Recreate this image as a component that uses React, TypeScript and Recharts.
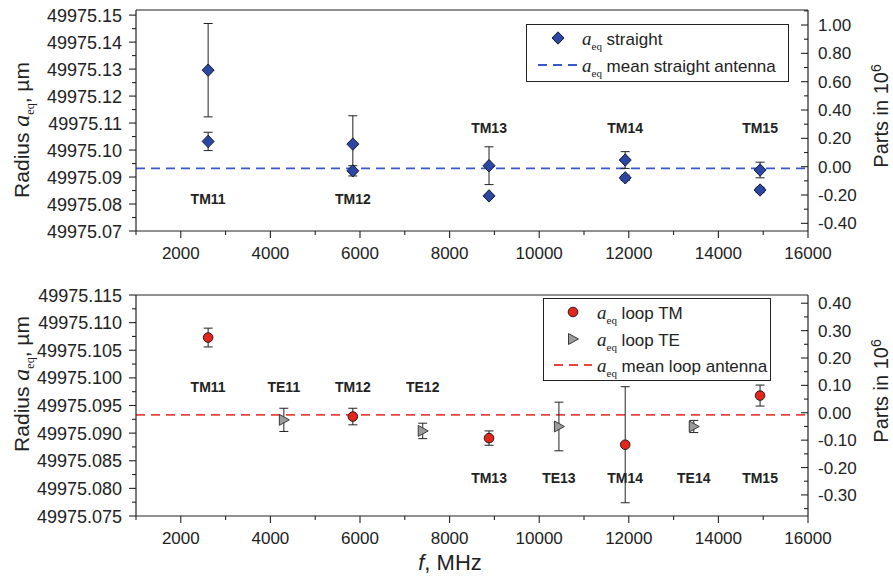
import React from "react";
import { ComposedChart, Scatter, XAxis, YAxis, ErrorBar, ReferenceLine } from "recharts";

const FONT = "'Liberation Sans', Arial, Helvetica, sans-serif";
const SERIF = "'Liberation Serif', 'Times New Roman', serif";
const INK = "#222";

// straight antenna, radius in um (two results per TM mode)
const straightFreq = [2610, 2610, 5840, 5840, 8880, 8880, 11920, 11920, 14930, 14930];
const straightRadius = [
  49975.1296, 49975.1032, 49975.1022, 49975.0923, 49975.0942, 49975.083, 49975.0963, 49975.0897,
  49975.0926, 49975.0852,
];
const straightErr = [0.0173, 0.0034, 0.0105, 0.0019, 0.007, 0.0005, 0.0031, 0.001, 0.0029, 0.001];
const straightMean = 49975.0932;

// loop antenna
const loopTmFreq = [2610, 5840, 8880, 11920, 14930];
const loopTmRadius = [49975.1073, 49975.093, 49975.0891, 49975.0879, 49975.0968];
const loopTmErr = [0.0017, 0.0015, 0.0013, 0.0105, 0.0019];

const loopTeFreq = [4300, 7400, 10440, 13450];
const loopTeRadius = [49975.0924, 49975.0904, 49975.0912, 49975.0912];
const loopTeErr = [0.0021, 0.0014, 0.0044, 0.0011];
const loopMean = 49975.0933;

// mode names written in the plots
const topModes = ["TM11", "TM12", "TM13", "TM14", "TM15"];
const topModeFreq = [2610, 5840, 8880, 11920, 14930];
const topModeY = [49975.0817, 49975.0817, 49975.108, 49975.108, 49975.108];

const bottomModes = ["TM11", "TE11", "TM12", "TE12", "TM13", "TE13", "TM14", "TE14", "TM15"];
const bottomModeFreq = [2610, 4300, 5840, 7400, 8880, 10440, 11920, 13450, 14930];
const bottomModeY = [
  49975.0983, 49975.0983, 49975.0983, 49975.0983, 49975.0819, 49975.0819, 49975.0819, 49975.0819,
  49975.0819,
];

// ticks
const xMajor = [2000, 4000, 6000, 8000, 10000, 12000, 14000, 16000];
const xMinor = [1000, 3000, 5000, 7000, 9000, 11000, 13000, 15000];
const topLeftMajor = [49975.07, 49975.08, 49975.09, 49975.1, 49975.11, 49975.12, 49975.13, 49975.14, 49975.15];
const topLeftMinor = [49975.075, 49975.085, 49975.095, 49975.105, 49975.115, 49975.125, 49975.135, 49975.145];
const topRightMajor = [-0.4, -0.2, 0, 0.2, 0.4, 0.6, 0.8, 1.0];
const topRightMinor = [-0.3, -0.1, 0.1, 0.3, 0.5, 0.7, 0.9, 1.1];
const botLeftMajor = [
  49975.075, 49975.08, 49975.085, 49975.09, 49975.095, 49975.1, 49975.105, 49975.11, 49975.115,
];
const botLeftMinor = [
  49975.0775, 49975.0825, 49975.0875, 49975.0925, 49975.0975, 49975.1025, 49975.1075, 49975.1125,
];
const botRightMajor = [-0.3, -0.2, -0.1, 0, 0.1, 0.2, 0.3, 0.4];
const botRightMinor = [-0.35, -0.25, -0.15, -0.05, 0.05, 0.15, 0.25, 0.35];

const straightData = straightFreq.map((f, i) => ({ f, a: straightRadius[i], err: straightErr[i] }));
const loopTmData = loopTmFreq.map((f, i) => ({ f, a: loopTmRadius[i], err: loopTmErr[i] }));
const loopTeData = loopTeFreq.map((f, i) => ({ f, a: loopTeRadius[i], err: loopTeErr[i] }));
const topLabels = topModes.map((name, i) => ({ name, f: topModeFreq[i], a: topModeY[i] }));
const bottomLabels = bottomModes.map((name, i) => ({ name, f: bottomModeFreq[i], a: bottomModeY[i] }));

const isMajor = (majors: number[], v: number) => majors.some((m) => Math.abs(m - v) < 1e-7);

const bottomTick = (props: any) => {
  const { x, y, payload } = props;
  const major = isMajor(xMajor, payload.value);
  return (
    <g>
      <line x1={x} y1={y} x2={x} y2={y + (major ? 7 : 4)} stroke={INK} strokeWidth={1.1} />
      {major && (
        <text x={x} y={y + 28} textAnchor="middle" fontSize={17} fontFamily={FONT} fill={INK}>
          {payload.value}
        </text>
      )}
    </g>
  );
};

const topTick = (props: any) => {
  const { x, y, payload } = props;
  const major = isMajor(xMajor, payload.value);
  return <line x1={x} y1={y} x2={x} y2={y + (major ? 7 : 4)} stroke={INK} strokeWidth={1.1} />;
};

const leftTick = (majors: number[], digits: number) => (props: any) => {
  const { x, y, payload } = props;
  const major = isMajor(majors, payload.value);
  return (
    <g>
      <line x1={x - (major ? 7 : 4)} y1={y} x2={x} y2={y} stroke={INK} strokeWidth={1.1} />
      {major && (
        <text x={x - 14} y={y + 6.5} textAnchor="end" fontSize={18} fontFamily={FONT} fill={INK}>
          {payload.value.toFixed(digits)}
        </text>
      )}
    </g>
  );
};

const rightTick = (majors: number[]) => (props: any) => {
  const { x, y, payload } = props;
  const major = isMajor(majors, payload.value);
  return (
    <g>
      <line x1={x - (major ? 7 : 4)} y1={y} x2={x} y2={y} stroke={INK} strokeWidth={1.1} />
      {major && (
        <text x={x + 10} y={y + 6} textAnchor="start" fontSize={17} fontFamily={FONT} fill={INK}>
          {payload.value.toFixed(2)}
        </text>
      )}
    </g>
  );
};

const Diamond = (props: any) => {
  const { cx, cy } = props;
  return (
    <polygon
      points={`${cx},${cy - 6.2} ${cx + 6},${cy} ${cx},${cy + 6.2} ${cx - 6},${cy}`}
      fill="#2c47a3"
      stroke="#141a33"
      strokeWidth={1}
    />
  );
};

const RedDot = (props: any) => <circle cx={props.cx} cy={props.cy} r={4.8} fill="#e2261c" stroke="#2a1a1a" strokeWidth={1} />;

const GrayTriangle = (props: any) => {
  const { cx, cy } = props;
  return (
    <polygon
      points={`${cx - 4.5},${cy - 5.5} ${cx + 5.5},${cy} ${cx - 4.5},${cy + 5.5}`}
      fill="#9b9b9b"
      stroke="#3a3a3a"
      strokeWidth={1}
    />
  );
};

const ModeLabel = (props: any) => (
  <text x={props.cx} y={props.cy + 5} textAnchor="middle" fontWeight="bold" fontSize={14} fontFamily={FONT} fill={INK}>
    {props.payload.name}
  </text>
);

const AEq = ({ size, sub }: { size: number; sub: number }) => (
  <span>
    <span style={{ fontFamily: SERIF, fontStyle: "italic", fontSize: size }}>a</span>
    <span style={{ fontFamily: SERIF, fontSize: sub, position: "relative", top: sub * 0.45 }}>eq</span>
  </span>
);

const axisLine = { stroke: INK, strokeWidth: 1.2 };

function Rotated({ cx, cy, children }: { cx: number; cy: number; children: React.ReactNode }) {
  return (
    <div
      style={{
        position: "absolute",
        left: cx,
        top: cy,
        transform: "translate(-50%, -50%) rotate(-90deg)",
        whiteSpace: "nowrap",
        fontFamily: FONT,
        color: INK,
        lineHeight: 1,
      }}
    >
      {children}
    </div>
  );
}

const legendRow = (top: number, left: number): React.CSSProperties => ({
  position: "absolute",
  top,
  left,
  transform: "translateY(-50%)",
  whiteSpace: "nowrap",
  fontFamily: FONT,
  fontSize: 17,
  color: INK,
  lineHeight: 1,
});

// plot area spans x 136..808 in both panels
function Panel(props: {
  height: number;
  top: number;
  bottom: number;
  leftDomain: [number, number];
  rightDomain: [number, number];
  leftTicks: number[];
  leftMajor: number[];
  leftDigits: number;
  rightTicks: number[];
  rightMajor: number[];
  children: React.ReactNode;
}) {
  const xTicks = [...xMinor, ...xMajor];
  return (
    <ComposedChart width={893} height={props.height} margin={{ top: 0, right: 0, bottom: 0, left: 0 }}>
      <XAxis
        xAxisId="x"
        dataKey="f"
        type="number"
        domain={[1000, 16000]}
        allowDataOverflow
        ticks={xTicks}
        interval={0}
        height={props.bottom}
        tickSize={0}
        tickMargin={0}
        tickLine={false}
        tick={bottomTick}
        axisLine={axisLine}
      />
      <XAxis
        xAxisId="xt"
        orientation="top"
        type="number"
        domain={[1000, 16000]}
        allowDataOverflow
        ticks={xTicks}
        interval={0}
        height={props.top}
        tickSize={0}
        tickMargin={0}
        tickLine={false}
        tick={topTick}
        axisLine={axisLine}
      />
      <YAxis
        yAxisId="l"
        dataKey="a"
        type="number"
        domain={props.leftDomain}
        allowDataOverflow
        ticks={props.leftTicks}
        interval={0}
        width={136}
        tickSize={0}
        tickMargin={0}
        tickLine={false}
        tick={leftTick(props.leftMajor, props.leftDigits)}
        axisLine={axisLine}
      />
      <YAxis
        yAxisId="r"
        orientation="right"
        type="number"
        domain={props.rightDomain}
        allowDataOverflow
        ticks={props.rightTicks}
        interval={0}
        width={85}
        tickSize={0}
        tickMargin={0}
        tickLine={false}
        tick={rightTick(props.rightMajor)}
        axisLine={axisLine}
      />
      {props.children}
    </ComposedChart>
  );
}

export default function App() {
  return (
    <div style={{ position: "absolute", left: 0, top: 0, width: 893, height: 580, background: "#fff", overflow: "hidden" }}>
      <div style={{ position: "absolute", left: 0, top: 0 }}>
        <Panel
          height={270}
          top={10}
          bottom={39}
          leftDomain={[49975.07, 49975.1519]}
          rightDomain={[-0.454, 1.106]}
          leftTicks={[...topLeftMinor, ...topLeftMajor]}
          leftMajor={topLeftMajor}
          leftDigits={2}
          rightTicks={[...topRightMinor, ...topRightMajor]}
          rightMajor={topRightMajor}
        >
          <ReferenceLine xAxisId="x" yAxisId="l" y={straightMean} stroke="#3a58cc" strokeWidth={1.8} strokeDasharray="9 6" />
          <Scatter xAxisId="x" yAxisId="l" data={straightData} shape={Diamond} isAnimationActive={false}>
            <ErrorBar dataKey="err" direction="y" width={4.5} stroke={INK} strokeWidth={1} isAnimationActive={false} />
          </Scatter>
          <Scatter xAxisId="x" yAxisId="l" data={topLabels} shape={ModeLabel} isAnimationActive={false} />
        </Panel>
      </div>
      <div style={{ position: "absolute", left: 0, top: 270 }}>
        <Panel
          height={310}
          top={25}
          bottom={64}
          leftDomain={[49975.075, 49975.115]}
          rightDomain={[-0.377, 0.43]}
          leftTicks={[...botLeftMinor, ...botLeftMajor]}
          leftMajor={botLeftMajor}
          leftDigits={3}
          rightTicks={[...botRightMinor, ...botRightMajor]}
          rightMajor={botRightMajor}
        >
          <ReferenceLine xAxisId="x" yAxisId="l" y={loopMean} stroke="#e8443c" strokeWidth={1.8} strokeDasharray="9 6" />
          <Scatter xAxisId="x" yAxisId="l" data={loopTeData} shape={GrayTriangle} isAnimationActive={false}>
            <ErrorBar dataKey="err" direction="y" width={4.5} stroke={INK} strokeWidth={1} isAnimationActive={false} />
          </Scatter>
          <Scatter xAxisId="x" yAxisId="l" data={loopTmData} shape={RedDot} isAnimationActive={false}>
            <ErrorBar dataKey="err" direction="y" width={4.5} stroke={INK} strokeWidth={1} isAnimationActive={false} />
          </Scatter>
          <Scatter xAxisId="x" yAxisId="l" data={bottomLabels} shape={ModeLabel} isAnimationActive={false} />
        </Panel>
      </div>

      {/* axis titles */}
      <Rotated cx={21} cy={130}>
        <span style={{ fontSize: 21 }}>Radius </span>
        <AEq size={24} sub={12} />
        <span style={{ fontSize: 21 }}>, µm</span>
      </Rotated>
      <Rotated cx={21} cy={384}>
        <span style={{ fontSize: 21 }}>Radius </span>
        <AEq size={24} sub={12} />
        <span style={{ fontSize: 21 }}>, µm</span>
      </Rotated>
      <Rotated cx={880} cy={116}>
        <span style={{ fontSize: 20 }}>Parts in 10</span>
        <sup style={{ fontSize: 14 }}>6</sup>
      </Rotated>
      <Rotated cx={880} cy={391}>
        <span style={{ fontSize: 20 }}>Parts in 10</span>
        <sup style={{ fontSize: 14 }}>6</sup>
      </Rotated>
      <div
        style={{
          position: "absolute",
          left: 450,
          top: 563,
          transform: "translate(-50%, -50%)",
          fontFamily: FONT,
          fontSize: 22,
          color: INK,
          whiteSpace: "nowrap",
          lineHeight: 1,
        }}
      >
        <span style={{ fontStyle: "italic" }}>f</span>, MHz
      </div>

      {/* top legend */}
      <div style={{ position: "absolute", left: 526, top: 24, width: 263, height: 58, border: `1px solid ${INK}`, background: "#fff", boxSizing: "border-box" }}>
        <svg width={261} height={56} style={{ position: "absolute", left: 0, top: 0 }}>
          <Diamond cx={31} cy={13} />
          <line x1={11} y1={40} x2={51} y2={40} stroke="#3a58cc" strokeWidth={1.8} strokeDasharray="9 6" />
        </svg>
        <div style={legendRow(13, 55)}>
          <AEq size={19} sub={11} /> straight
        </div>
        <div style={legendRow(40, 55)}>
          <AEq size={19} sub={11} /> mean straight antenna
        </div>
      </div>

      {/* bottom legend */}
      <div style={{ position: "absolute", left: 543, top: 298, width: 228, height: 83, border: `1px solid ${INK}`, background: "#fff", boxSizing: "border-box" }}>
        <svg width={226} height={81} style={{ position: "absolute", left: 0, top: 0 }}>
          <RedDot cx={29} cy={13} />
          <GrayTriangle cx={29} cy={40} />
          <line x1={10} y1={66} x2={48} y2={66} stroke="#e8443c" strokeWidth={1.8} strokeDasharray="9 6" />
        </svg>
        <div style={legendRow(13, 53)}>
          <AEq size={19} sub={11} /> loop TM
        </div>
        <div style={legendRow(40, 53)}>
          <AEq size={19} sub={11} /> loop TE
        </div>
        <div style={legendRow(66, 53)}>
          <AEq size={19} sub={11} /> mean loop antenna
        </div>
      </div>
    </div>
  );
}
